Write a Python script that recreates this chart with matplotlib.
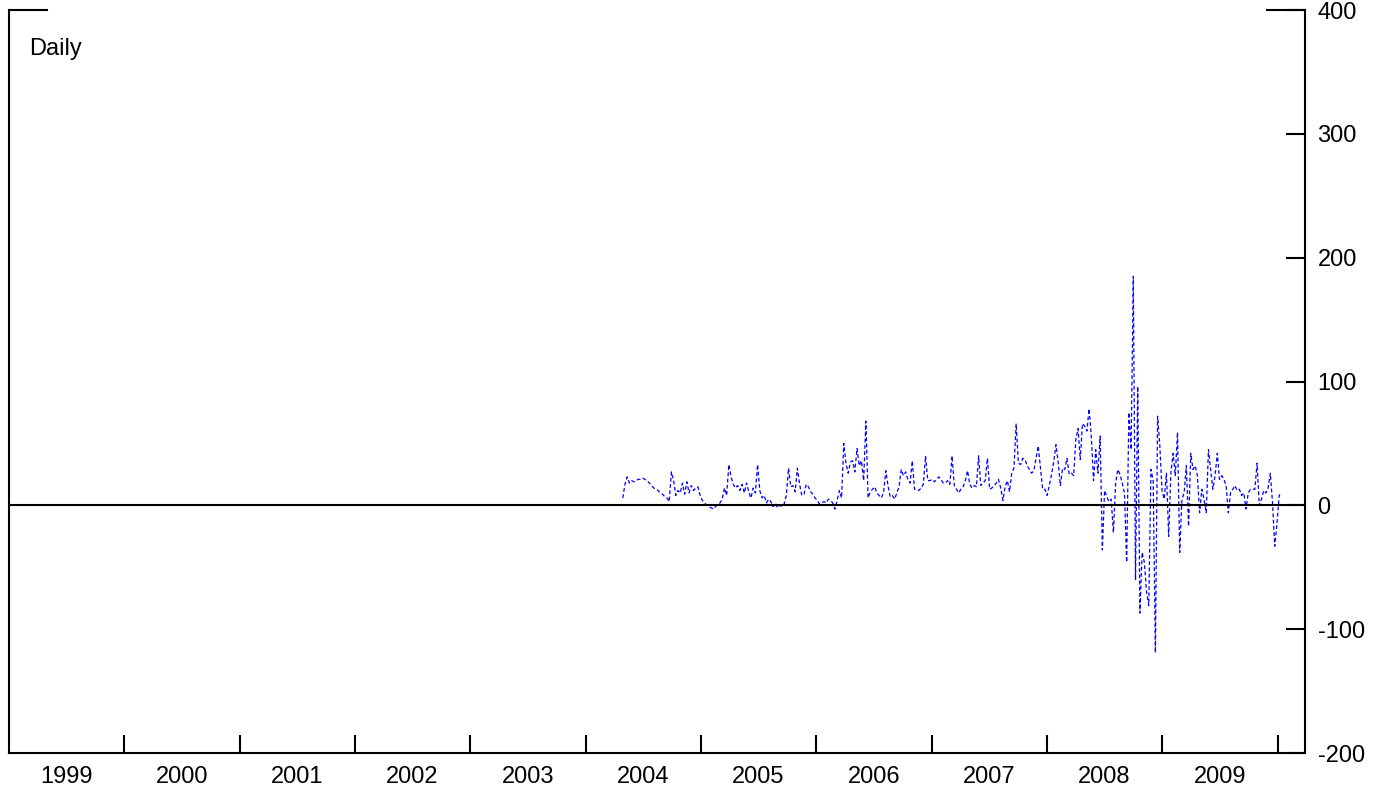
import numpy as np
import pandas as pd
import matplotlib
matplotlib.use("Agg")
import matplotlib.pyplot as plt
import matplotlib.dates as mdates
from datetime import datetime

plt.rcParams['font.family'] = ['Liberation Sans', 'DejaVu Sans']

# spread, one value per week from late April 2004
start_date = '2004-04-28'

spread_2004 = [6, 17, 23, 18, 20, 19, 20, 21, 21, 22, 21, 20, 18, 16, 14, 13, 12, 10, 9, 7,
               6, 3, 27, 20, 8, 12, 10, 18, 9, 19, 10, 16, 12, 14, 15, 8, 4, 2, 0, -1,
               -2, -3, -1, 1, 2, 5, 14]
spread_2005 = [8, 33, 23, 17, 14, 16, 12, 17, 10, 18, 11, 6, 14, 10, 33, 12, 6, 8, 2, 5,
               3, -1, 2, -2,
               0, -1, 1, 8, 30, 15, 16, 11, 30, 17, 8, 9, 17, 15, 11, 9, 6, 4, 1, 2,
               3, 2, 5, 4, 2, -3, 4, 12, 6]
spread_2006 = [50, 34, 26, 35, 36, 27, 46, 32, 36, 20, 68, 6, 11, 13, 15, 10, 8, 6, 10, 28,
               16, 7, 8, 5, 10, 15, 29, 24, 27, 21, 18, 36, 13, 13, 12, 14, 17, 40, 20, 20,
               21, 19, 21, 23, 21, 18, 18, 20]
spread_2007 = [17, 40, 16, 13, 10, 13, 15, 20, 28, 17, 14, 16, 15, 40, 16, 18, 20, 38, 13, 14,
               16, 18, 21, 14, 4, 15, 20, 11, 26, 30, 66, 34, 33, 38, 37, 32, 29, 26, 28, 38,
               48, 30, 13, 13, 8, 16, 25, 35, 49, 35, 16, 30, 29]
spread_2008 = [38, 25, 26, 24, 53, 62, 37, 66, 64, 60, 78, 56, 20, 45, 26, 56, -36, 12, 7, 3,
               5, -22, 18, 29, 25, 18, 10, -46, 75, 45, 185, -60, 96, -87, -38, -46, -70, -81, 29, 20,
               -119, 72, 48, 12, 5, 26, -25, 26, 42, 24, 59, -38, 5, 10]
spread_2009 = [32, -17, 42, 29, 32, 24, -6, 13, 5, -6, 45, 29, 13, 24, 42, 21, 24, 21, 16, -6,
               10, 13, 16, 12, 13, 8, 10, -3, 10, 13, 13, 13, 34, 0, 5, 12, 10, 14, 26, 2,
               -33, -15, 8, 10]

years = list(range(1999, 2010))
y_ticks = [-200, -100, 0, 100, 200, 300, 400]


def build_series():
    values = spread_2004 + spread_2005 + spread_2006 + spread_2007 + spread_2008 + spread_2009
    dates = pd.date_range(start_date, periods=len(values), freq='7D')
    return pd.Series(values, index=dates)


def visualize(series: pd.Series, save_path: str) -> None:
    fig = plt.figure(figsize=(13.86, 7.89), dpi=100)
    ax = fig.add_axes([0.0065, 0.0456, 0.9351, 0.9417])

    ax.plot(series.index, series.values, color='#0000ff', lw=0.9,
            linestyle=(0, (3, 2)), zorder=2)
    ax.axhline(0, color='black', lw=1.5, zorder=3)

    ax.set_xlim(datetime(1999, 1, 1), datetime(2010, 3, 29))
    ax.set_ylim(-200, 400)

    # year boundaries get ticks, labels sit mid-year
    ax.set_xticks([datetime(y, 1, 1) for y in years[1:] + [2010]])
    ax.set_xticklabels([])
    ax.set_xticks([datetime(y, 7, 2) for y in years], minor=True)
    ax.set_xticklabels([str(y) for y in years], minor=True)
    ax.tick_params(axis='x', which='major', direction='in', length=13, width=1.5)
    ax.tick_params(axis='x', which='minor', length=0, labelsize=17, pad=9.5)

    ax.yaxis.tick_right()
    ax.set_yticks(y_ticks)
    ax.set_yticklabels([str(v) for v in y_ticks])
    ax.tick_params(axis='y', direction='in', length=14, width=1.5, labelsize=17, pad=9)

    for side in ['left', 'bottom', 'right']:
        ax.spines[side].set_linewidth(1.5)
    ax.spines['top'].set_visible(False)
    # only short stubs of the top frame are shown
    ax.plot([0, 0.029], [1, 1], transform=ax.transAxes, color='black', lw=1.5, clip_on=False)
    ax.plot([0.971, 1], [1, 1], transform=ax.transAxes, color='black', lw=1.5, clip_on=False)

    ax.text(0.0154, 0.94, 'Daily', transform=ax.transAxes, fontsize=17, va='baseline')

    plt.savefig(save_path, dpi=100)
    print(f"Saved plot to: {save_path}")


def main():
    series = build_series()
    visualize(series, 'out.png')


if __name__ == "__main__":
    main()
